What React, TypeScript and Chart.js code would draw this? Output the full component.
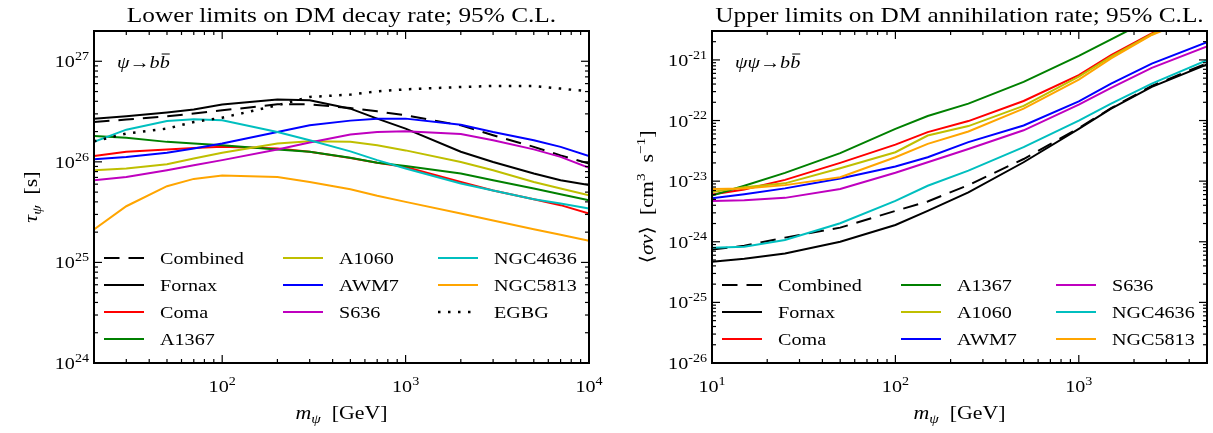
import { useEffect, useRef } from "react";
import { Chart, registerables, type ChartConfiguration, type Plugin } from "chart.js";

Chart.register(...registerables);

const FONT = '"Liberation Serif", "DejaVu Serif", serif';
// Computer Modern runs about 15% wider than Times, so text is stretched a bit
const STRETCH = 1.15;

// ---- left panel: lower limits on decay lifetime [s] ----
const decayMass = [20, 30, 50, 70, 100, 200, 300, 500, 700, 1000, 2000, 3000, 5000, 7000, 10000];
const decayCombined = [2.49e26, 2.63e26, 2.84e26, 3.02e26, 3.25e26, 3.73e26, 3.73e26, 3.43e26, 3.18e26, 2.9e26, 2.31e26, 1.84e26, 1.41e26, 1.16e26, 9.6e25];
const decayFornax = [2.69e26, 2.84e26, 3.09e26, 3.31e26, 3.71e26, 4.16e26, 4.09e26, 3.38e26, 2.69e26, 2.14e26, 1.26e26, 9.97e25, 7.66e25, 6.57e25, 5.9e25];
const decayComa = [1.14e26, 1.26e26, 1.33e26, 1.37e26, 1.41e26, 1.36e26, 1.26e26, 1.09e26, 9.8e25, 8.9e25, 6.3e25, 5.2e25, 4.25e25, 3.71e25, 3.07e25];
const decayA1367 = [1.81e26, 1.74e26, 1.58e26, 1.52e26, 1.46e26, 1.33e26, 1.26e26, 1.1e26, 9.8e25, 9.1e25, 7.66e25, 6.57e25, 5.43e25, 4.77e25, 4.16e25];
const decayA1060 = [8.26e25, 8.58e25, 9.46e25, 1.08e26, 1.23e26, 1.52e26, 1.6e26, 1.58e26, 1.46e26, 1.3e26, 9.97e25, 8.26e25, 6.31e25, 5.43e25, 4.66e25];
const decayAWM7 = [1.06e26, 1.12e26, 1.23e26, 1.36e26, 1.52e26, 1.98e26, 2.31e26, 2.57e26, 2.69e26, 2.69e26, 2.34e26, 1.98e26, 1.64e26, 1.41e26, 1.14e26];
const decayS636 = [6.57e25, 7.08e25, 8.26e25, 9.25e25, 1.04e26, 1.33e26, 1.56e26, 1.87e26, 1.98e26, 2.01e26, 1.89e26, 1.64e26, 1.33e26, 1.12e26, 8.7e25];
const decayNGC4636 = [1.58e26, 2.09e26, 2.55e26, 2.65e26, 2.59e26, 1.98e26, 1.64e26, 1.27e26, 1.04e26, 8.6e25, 6.1e25, 5.2e25, 4.25e25, 3.86e25, 3.44e25];
const decayNGC5813 = [2.13e25, 3.62e25, 5.73e25, 6.77e25, 7.31e25, 7.08e25, 6.31e25, 5.35e25, 4.6e25, 4.0e25, 3.06e25, 2.61e25, 2.14e25, 1.88e25, 1.64e25];
const decayEGBG = [1.6e26, 1.91e26, 2.14e26, 2.49e26, 2.75e26, 3.65e26, 4.42e26, 4.66e26, 5.02e26, 5.26e26, 5.55e26, 5.68e26, 5.68e26, 5.35e26, 5.02e26];
const decayXExp = [2, 3, 4];
const decayYExp = [24, 25, 26, 27];

// ---- right panel: upper limits on <sigma v> [cm^3 s^-1] ----
const annMass = [10, 15, 25, 50, 100, 150, 250, 500, 1000, 1500, 2500, 5000];
const annCombined = [7.48e-25, 8.6e-25, 1.17e-24, 1.71e-24, 3.23e-24, 4.62e-24, 8.6e-24, 2.32e-23, 7.5e-23, 1.6e-22, 3.73e-22, 8.8e-22];
const annFornax = [4.68e-25, 5.25e-25, 6.43e-25, 1.0e-24, 1.89e-24, 3.23e-24, 6.52e-24, 2.05e-23, 7.31e-23, 1.57e-22, 3.6e-22, 8.4e-22];
const annComa = [6.0e-24, 7.3e-24, 1.05e-23, 2.0e-23, 4.0e-23, 6.44e-23, 9.8e-23, 2.1e-22, 5.6e-22, 1.2e-21, 2.75e-21, 7.9e-21];
const annA1367 = [5.8e-24, 8.4e-24, 1.37e-23, 2.9e-23, 7.3e-23, 1.19e-22, 1.9e-22, 4.35e-22, 1.17e-21, 2.19e-21, 4.8e-21, 1.39e-20];
const annA1060 = [6.6e-24, 7.9e-24, 9.2e-24, 1.63e-23, 3.0e-23, 5.66e-23, 8.1e-23, 1.74e-22, 5.3e-22, 1.13e-21, 2.65e-21, 6.5e-21];
const annAWM7 = [5.2e-24, 6.1e-24, 7.6e-24, 1.11e-23, 1.75e-23, 2.48e-23, 4.4e-23, 8.3e-23, 2.07e-22, 4.07e-22, 8.7e-22, 1.97e-21];
const annS636 = [4.7e-24, 4.85e-24, 5.3e-24, 7.4e-24, 1.38e-23, 2.05e-23, 3.4e-23, 6.9e-23, 1.83e-22, 3.46e-22, 7.4e-22, 1.67e-21];
const annNGC4636 = [7.98e-25, 8.3e-25, 1.07e-24, 2.02e-24, 4.73e-24, 8.4e-24, 1.49e-23, 3.64e-23, 1.0e-22, 1.9e-22, 4.07e-22, 9.9e-22];
const annNGC5813 = [7.4e-24, 7.6e-24, 8.6e-24, 1.16e-23, 2.48e-23, 4.12e-23, 6.6e-23, 1.57e-22, 4.75e-22, 1.06e-21, 2.58e-21, 6.1e-21];
const annXExp = [1, 2, 3];
const annYExp = [-26, -25, -24, -23, -22, -21];

const STYLE: Record<string, { color: string; dash?: number[]; width?: number }> = {
  Combined: { color: "#000000", dash: [15.5, 9] },
  Fornax: { color: "#000000" },
  Coma: { color: "#ff0000" },
  A1367: { color: "#008000" },
  A1060: { color: "#bfbf00" },
  AWM7: { color: "#0000ff" },
  S636: { color: "#bf00bf" },
  NGC4636: { color: "#00bfbf" },
  NGC5813: { color: "#ffa500" },
  EGBG: { color: "#000000", dash: [2.5, 7.5], width: 2.5 },
};

type Run = { t: string; it?: boolean; sub?: boolean; sup?: boolean; bar?: boolean };

interface Panel {
  title: string;
  mass: number[];
  series: [string, number[]][];
  xMin: number;
  xMax: number;
  yMin: number;
  yMax: number;
  xExp: number[];
  yExp: number[];
  yLabel: Run[];
  yLabelX: number;
  note: Run[];
  legendCols: number[];
  left: number;
  width: number;
  yAxisWidth: number;
  padRight: number;
}

const decayPanel: Panel = {
  title: "Lower limits on DM decay rate; 95% C.L.",
  mass: decayMass,
  series: [
    ["Combined", decayCombined],
    ["Fornax", decayFornax],
    ["Coma", decayComa],
    ["A1367", decayA1367],
    ["A1060", decayA1060],
    ["AWM7", decayAWM7],
    ["S636", decayS636],
    ["NGC4636", decayNGC4636],
    ["NGC5813", decayNGC5813],
    ["EGBG", decayEGBG],
  ],
  xMin: 20,
  xMax: 1e4,
  yMin: 1e24,
  yMax: 2e27,
  xExp: decayXExp,
  yExp: decayYExp,
  yLabel: [{ t: "τ", it: true }, { t: "ψ", it: true, sub: true }, { t: "  [s]" }],
  yLabelX: 37,
  note: [{ t: "ψ", it: true }, { t: "→" }, { t: "b", it: true }, { t: "b", it: true, bar: true }],
  legendCols: [4, 3, 3],
  left: 0,
  width: 606,
  yAxisWidth: 94,
  padRight: 17,
};

const annPanel: Panel = {
  title: "Upper limits on DM annihilation rate; 95% C.L.",
  mass: annMass,
  series: [
    ["Combined", annCombined],
    ["Fornax", annFornax],
    ["Coma", annComa],
    ["A1367", annA1367],
    ["A1060", annA1060],
    ["AWM7", annAWM7],
    ["S636", annS636],
    ["NGC4636", annNGC4636],
    ["NGC5813", annNGC5813],
  ],
  xMin: 10,
  xMax: 5000,
  yMin: 1e-26,
  yMax: 3e-21,
  xExp: annXExp,
  yExp: annYExp,
  yLabel: [
    { t: "⟨" },
    { t: "σv", it: true },
    { t: "⟩" },
    { t: "  [cm" },
    { t: "3", sup: true },
    { t: "  s" },
    { t: "−1", sup: true },
    { t: "]" },
  ],
  yLabelX: 47,
  note: [{ t: "ψψ", it: true }, { t: "→" }, { t: "b", it: true }, { t: "b", it: true, bar: true }],
  legendCols: [3, 3, 3],
  left: 606,
  width: 607,
  yAxisWidth: 106,
  padRight: 6,
};

function runFont(r: Run, size: number) {
  const s = r.sub || r.sup ? size * 0.7 : size;
  return `${r.it ? "italic " : ""}${s}px ${FONT}`;
}

function drawRuns(ctx: CanvasRenderingContext2D, runs: Run[], x: number, y: number, size: number, align: "left" | "center" | "right") {
  let total = 0;
  for (const r of runs) {
    ctx.font = runFont(r, size);
    total += ctx.measureText(r.t).width * STRETCH;
  }
  let cx = align === "center" ? x - total / 2 : align === "right" ? x - total : x;
  ctx.textAlign = "left";
  ctx.textBaseline = "alphabetic";
  for (const r of runs) {
    ctx.font = runFont(r, size);
    const w = ctx.measureText(r.t).width * STRETCH;
    const dy = r.sub ? size * 0.22 : r.sup ? -size * 0.42 : 0;
    ctx.save();
    ctx.translate(cx, y + dy);
    ctx.scale(STRETCH, 1);
    ctx.fillText(r.t, 0, 0);
    ctx.restore();
    if (r.bar) {
      ctx.beginPath();
      ctx.lineWidth = 1;
      ctx.moveTo(cx + w * 0.2, y - size * 0.8);
      ctx.lineTo(cx + w * 1.0, y - size * 0.8);
      ctx.stroke();
    }
    cx += w;
  }
}

function logTicks(min: number, max: number) {
  const major: number[] = [];
  const minor: number[] = [];
  for (let e = Math.floor(Math.log10(min)); e <= Math.ceil(Math.log10(max)); e++) {
    for (let k = 1; k <= 9; k++) {
      const v = k * Math.pow(10, e);
      if (v < min * 0.999 || v > max * 1.001) continue;
      (k === 1 ? major : minor).push(v);
    }
  }
  return { major, minor };
}

function decor(p: Panel): Plugin<"line"> {
  return {
    id: "mplDecor",
    afterDraw(chart) {
      const ctx = chart.ctx;
      const { left, right, top, bottom } = chart.chartArea;
      const xs = chart.scales.x;
      const ys = chart.scales.y;
      ctx.save();
      ctx.fillStyle = "#000";
      ctx.strokeStyle = "#000";

      // ticks on all four sides, pointing inward
      ctx.lineWidth = 1.2;
      const xt = logTicks(p.xMin, p.xMax);
      const yt = logTicks(p.yMin, p.yMax);
      const tick = (x1: number, y1: number, x2: number, y2: number) => {
        ctx.beginPath();
        ctx.moveTo(x1, y1);
        ctx.lineTo(x2, y2);
        ctx.stroke();
      };
      for (const [vals, len] of [[xt.major, 8], [xt.minor, 4]] as [number[], number][]) {
        for (const v of vals) {
          const px = xs.getPixelForValue(v);
          tick(px, bottom, px, bottom - len);
          tick(px, top, px, top + len);
        }
      }
      for (const [vals, len] of [[yt.major, 8], [yt.minor, 4]] as [number[], number][]) {
        for (const v of vals) {
          const py = ys.getPixelForValue(v);
          tick(left, py, left + len, py);
          tick(right, py, right - len, py);
        }
      }
      ctx.lineWidth = 2;
      ctx.strokeRect(left, top, right - left, bottom - top);

      // tick labels
      for (const e of p.xExp) {
        const px = xs.getPixelForValue(Math.pow(10, e));
        drawRuns(ctx, [{ t: "10" }, { t: String(e), sup: true }], px, bottom + 29, 17.5, "center");
      }
      for (const e of p.yExp) {
        const py = ys.getPixelForValue(Math.pow(10, e));
        drawRuns(ctx, [{ t: "10" }, { t: String(e), sup: true }], left - 5, py + 6, 17.5, "right");
      }

      // titles and axis labels
      const cx = (left + right) / 2;
      drawRuns(ctx, [{ t: p.title }], cx, 22, 22, "center");
      drawRuns(ctx, [{ t: "m", it: true }, { t: "ψ", it: true, sub: true }, { t: "  [GeV]" }], cx, 419, 19, "center");
      ctx.save();
      ctx.translate(p.yLabelX, (top + bottom) / 2);
      ctx.rotate(-Math.PI / 2);
      drawRuns(ctx, p.yLabel, 0, 0, 19, "center");
      ctx.restore();

      // process annotation
      drawRuns(ctx, p.note, left + 23, 68, 17.5, "left");

      // legend, column-major, anchored lower left
      const rowGap = 27;
      const bottomRow = 339;
      const colX = [0, 179, 334];
      const nRows = Math.max(...p.legendCols);
      let idx = 0;
      p.legendCols.forEach((count, c) => {
        for (let r = 0; r < count; r++) {
          const ds = chart.data.datasets[idx++];
          if (!ds) continue;
          const st = STYLE[ds.label as string];
          const y = bottomRow - (nRows - 1 - r) * rowGap;
          const hx = left + 10 + colX[c];
          ctx.save();
          ctx.strokeStyle = st.color;
          ctx.lineWidth = st.width ?? 2;
          ctx.setLineDash(st.dash ?? []);
          ctx.beginPath();
          ctx.moveTo(hx, y);
          ctx.lineTo(hx + 40, y);
          ctx.stroke();
          ctx.restore();
          drawRuns(ctx, [{ t: ds.label as string }], hx + 56, y + 6, 17.5, "left");
        }
      });
      ctx.restore();
    },
  };
}

function buildConfig(p: Panel): ChartConfiguration<"line"> {
  return {
    type: "line",
    data: {
      datasets: p.series.map(([name, values], i) => {
        const st = STYLE[name];
        return {
          label: name,
          data: p.mass.map((m, j) => ({ x: m, y: values[j] })),
          borderColor: st.color,
          backgroundColor: st.color,
          borderWidth: st.width ?? 2,
          borderDash: st.dash ?? [],
          pointRadius: 0,
          tension: 0,
          fill: false,
          order: -i,
        };
      }),
    },
    options: {
      animation: false,
      responsive: true,
      maintainAspectRatio: false,
      events: [],
      layout: { padding: { left: 0, top: 31, right: p.padRight, bottom: 0 } },
      plugins: {
        legend: { display: false },
        tooltip: { enabled: false },
        title: { display: false },
      },
      scales: {
        x: {
          type: "logarithmic",
          min: p.xMin,
          max: p.xMax,
          grid: { display: false },
          border: { display: false },
          ticks: { display: false },
          afterFit: (s) => {
            s.height = 70;
          },
        },
        y: {
          type: "logarithmic",
          min: p.yMin,
          max: p.yMax,
          grid: { display: false },
          border: { display: false },
          ticks: { display: false },
          afterFit: (s) => {
            s.width = p.yAxisWidth;
          },
        },
      },
    },
    plugins: [decor(p)],
  };
}

function PanelChart({ panel }: { panel: Panel }) {
  const canvasRef = useRef<HTMLCanvasElement | null>(null);

  useEffect(() => {
    const canvas = canvasRef.current;
    if (!canvas) return;
    const chart = new Chart(canvas, buildConfig(panel));
    return () => chart.destroy();
  }, [panel]);

  return (
    <div style={{ position: "absolute", left: panel.left, top: 0, width: panel.width, height: 433 }}>
      <canvas ref={canvasRef} />
    </div>
  );
}

export default function App() {
  return (
    <div style={{ position: "fixed", left: 0, top: 0, width: 1213, height: 433, background: "#fff" }}>
      <PanelChart panel={decayPanel} />
      <PanelChart panel={annPanel} />
    </div>
  );
}
